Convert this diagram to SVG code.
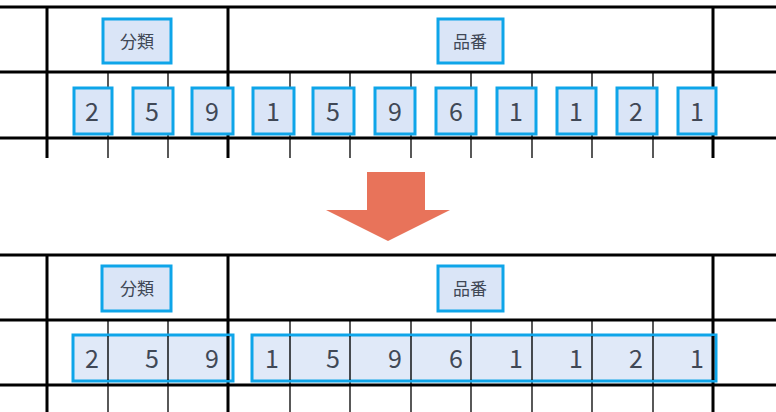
<svg xmlns="http://www.w3.org/2000/svg" width="776" height="412" viewBox="0 0 776 412">
<style>
.thick{stroke:#000;stroke-width:3;fill:none}
.thin{stroke:#000;stroke-width:1.3;fill:none}
.box{fill:#dae5f7;stroke:#0ea5e9;stroke-width:3}
.t{font-family:"Noto Sans CJK JP","Liberation Sans",sans-serif;fill:#404856;text-anchor:middle}
.d{font-size:25px}
.h{font-size:17px}
</style>
<rect width="776" height="412" fill="#fff"/>
<g id="table-top">
<path class="thick" d="M0 7H776M0 72H776M0 138H776M47 7V158M228 7V158M713 7V158"/>
<path class="thin" d="M108 72V158M168 72V158M290 72V158M350 72V158M411 72V158M471 72V158M532 72V158M592 72V158M653 72V158"/>
</g>
<g id="table-bottom">
<path class="thick" d="M0 255H776M0 320H776M0 385H776M47 255V412M228 255V412M713 255V412"/>
<path class="thin" d="M108 320V412M168 320V412M290 320V412M350 320V412M411 320V412M471 320V412M532 320V412M592 320V412M653 320V412"/>
</g>
<g id="top-labels">
<rect class="box" x="103" y="19" width="68" height="44"/><text class="t h" x="137" y="48">分類</text>
<rect class="box" x="438" y="19" width="65" height="44"/><text class="t h" x="470" y="48">品番</text>
</g>
<g id="top-digits">
<rect class="box" x="74" y="88" width="38" height="46"/><text class="t d" x="92" y="121">2</text>
<rect class="box" x="133" y="88" width="40" height="46"/><text class="t d" x="152" y="121">5</text>
<rect class="box" x="192" y="88" width="41" height="46"/><text class="t d" x="212" y="121">9</text>
<rect class="box" x="253" y="88" width="41" height="46"/><text class="t d" x="273" y="121">1</text>
<rect class="box" x="313" y="88" width="41" height="46"/><text class="t d" x="333" y="121">5</text>
<rect class="box" x="375" y="88" width="40" height="46"/><text class="t d" x="395" y="121">9</text>
<rect class="box" x="436" y="88" width="40" height="46"/><text class="t d" x="456" y="121">6</text>
<rect class="box" x="497" y="88" width="39" height="46"/><text class="t d" x="516" y="121">1</text>
<rect class="box" x="557" y="88" width="39" height="46"/><text class="t d" x="576" y="121">1</text>
<rect class="box" x="617" y="88" width="40" height="46"/><text class="t d" x="636" y="121">2</text>
<rect class="box" x="678" y="88" width="38" height="46"/><text class="t d" x="697" y="121">1</text>
</g>
<g id="arrow">
<polygon points="367,172 425,172 425,210 450,210 388,241 326,210 367,210" fill="#e8735a"/>
</g>
<g id="bottom-labels">
<rect class="box" x="102" y="266" width="69" height="45"/><text class="t h" x="137" y="295">分類</text>
<rect class="box" x="438" y="266" width="65" height="45"/><text class="t h" x="470" y="295">品番</text>
</g>
<g id="bottom-digits">
<rect class="box" x="73" y="335" width="160" height="46" fill-opacity="0.85"/>
<rect class="box" x="252" y="335" width="464" height="46" fill-opacity="0.85"/>
<path class="thin" d="M108 336V380M168 336V380M290 336V380M350 336V380M411 336V380M471 336V380M532 336V380M592 336V380M653 336V380"/>
<path class="thick" d="M228 336V380M713 336V380"/>
<g class="t d">
<text x="92" y="368">2</text><text x="152" y="368">5</text><text x="212" y="368">9</text>
<text x="272" y="368">1</text><text x="333" y="368">5</text><text x="395" y="368">9</text><text x="456" y="368">6</text>
<text x="516" y="368">1</text><text x="576" y="368">1</text><text x="636" y="368">2</text><text x="697" y="368">1</text>
</g>
</g>
</svg>
